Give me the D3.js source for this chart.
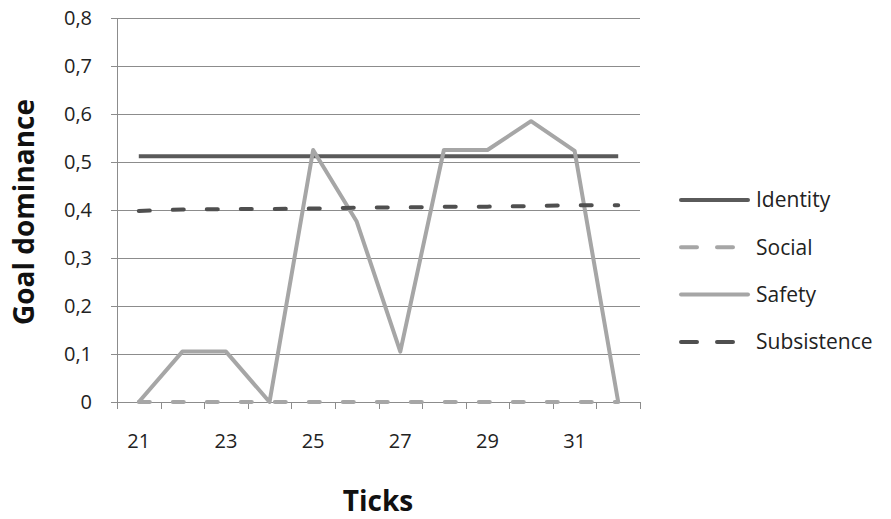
<!DOCTYPE html>
<html><head><meta charset="utf-8">
<script src="https://cdn.jsdelivr.net/npm/d3@7"></script>
<style>body{margin:0;background:#fff}svg{display:block}text{font-family:"Open Sans",sans-serif}</style>
</head><body><svg id="c" width="891" height="519"></svg>
<script>
const ticks = [21,22,23,24,25,26,27,28,29,30,31,32];
const identity = [0.512,0.512,0.512,0.512,0.512,0.512,0.512,0.512,0.512,0.512,0.512,0.512];
const social = [0,0,0,0,0,0,0,0,0,0,0,0];
const safety = [0,0.105,0.105,0,0.525,0.376,0.105,0.525,0.525,0.585,0.523,0];
const subsistence = [0.398,0.401,0.402,0.402,0.403,0.405,0.405,0.407,0.407,0.408,0.410,0.410];
const yTicks = [0,0.1,0.2,0.3,0.4,0.5,0.6,0.7,0.8];
const xLabels = [21,23,25,27,29,31];

const series = [
  {name:"Identity", values:identity, color:"#5a5a5a", dash:null, legDash:null},
  {name:"Social", values:social, color:"#a6a6a6", dash:"11,23", legDash:"16,20"},
  {name:"Safety", values:safety, color:"#a6a6a6", dash:null, legDash:null},
  {name:"Subsistence", values:subsistence, color:"#4f4f4f", dash:"11,23", legDash:"16,20"}
];

const svg = d3.select("#c");
const L=117, R=640, T=18, B=402;
const x = d3.scaleBand().domain(ticks).range([L,R]);
const y = d3.scaleLinear().domain([0,0.8]).range([B,T]);

svg.append("g").selectAll("line").data(yTicks).join("line")
  .attr("x1",L-6).attr("x2",R).attr("y1",d=>y(d)+0.5).attr("y2",d=>y(d)+0.5)
  .attr("stroke","#8c8c8c").attr("stroke-width",1);
svg.append("line").attr("x1",L+0.5).attr("x2",L+0.5).attr("y1",T).attr("y2",B+6)
  .attr("stroke","#8c8c8c");
const bounds = ticks.map(t=>x(t)).concat([R]);
svg.append("g").selectAll("line").data(bounds).join("line")
  .attr("x1",d=>Math.round(d)+0.5).attr("x2",d=>Math.round(d)+0.5).attr("y1",B).attr("y2",B+7)
  .attr("stroke","#8c8c8c");
svg.append("g").selectAll("text").data(yTicks).join("text")
  .attr("x",92).attr("y",d=>y(d)).attr("dy","0.35em").attr("text-anchor","end")
  .attr("font-size",20).attr("fill","#222").text(d=>d===0?"0":d3.format(".1f")(d).replace(".",","));
svg.append("g").selectAll("text").data(xLabels).join("text")
  .attr("x",d=>x(d)+x.bandwidth()/2).attr("y",B+46).attr("text-anchor","middle")
  .attr("font-size",20).attr("fill","#222").text(d=>d);

const line = d3.line().x((d,i)=>x(ticks[i])+x.bandwidth()/2).y(d=>y(d));
svg.append("g").selectAll("path").data(series).join("path")
  .attr("d",d=>line(d.values)).attr("fill","none").attr("stroke",d=>d.color)
  .attr("stroke-width",4).attr("stroke-linejoin","round")
  .attr("stroke-linecap",d=>d.dash?"round":"butt")
  .attr("stroke-dasharray",d=>d.dash);

const lg = svg.append("g").selectAll("g").data(series).join("g")
  .attr("transform",(d,i)=>`translate(681,${200+i*47.3})`);
lg.append("line").attr("x1",0).attr("x2",67).attr("y1",0).attr("y2",0)
  .attr("stroke",d=>d.color).attr("stroke-width",4)
  .attr("stroke-linecap","round")
  .attr("stroke-dasharray",d=>d.legDash);
lg.append("text").attr("x",75).attr("y",0).attr("dy","0.35em")
  .attr("font-size",21).attr("fill","#222").text(d=>d.name);

svg.append("text").attr("transform","translate(34,212) rotate(-90)")
  .attr("text-anchor","middle").attr("font-size",28).attr("font-weight","bold").attr("fill","#111")
  .text("Goal dominance");
svg.append("text").attr("x",378).attr("y",511).attr("text-anchor","middle")
  .attr("font-size",28).attr("font-weight","bold").attr("fill","#111").text("Ticks");
</script></body></html>
